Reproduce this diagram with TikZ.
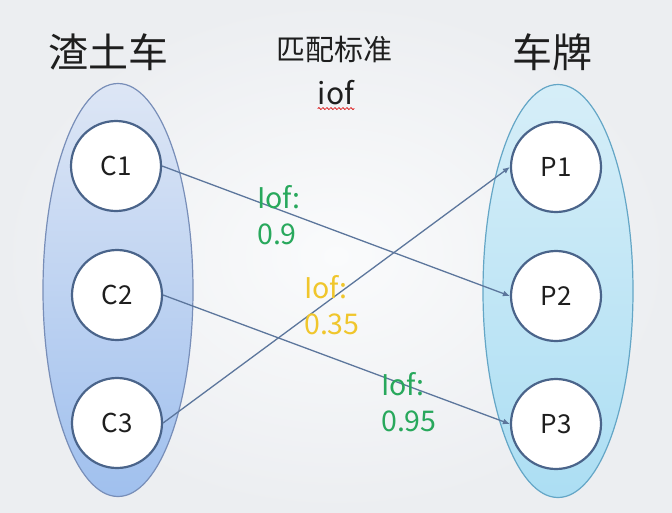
\documentclass[tikz,border=0pt]{standalone}
\usepackage{fontspec}
\setmainfont{Noto Sans CJK SC}
\usetikzlibrary{shapes.geometric,arrows.meta,decorations.pathmorphing}
\definecolor{bgin}{RGB}{250,251,252}
\definecolor{bgout}{RGB}{236,238,241}
\definecolor{lbord}{RGB}{120,142,184}
\definecolor{ltop}{RGB}{221,230,245}
\definecolor{lbot}{RGB}{160,192,238}
\definecolor{rbord}{RGB}{100,166,198}
\definecolor{rtop}{RGB}{214,238,248}
\definecolor{rbot}{RGB}{172,222,243}
\definecolor{cbord}{RGB}{74,100,138}
\definecolor{edgecol}{RGB}{92,118,156}
\definecolor{lblgreen}{RGB}{40,168,92}
\definecolor{lblyellow}{RGB}{240,198,44}
\definecolor{txt}{RGB}{30,30,30}
\tikzset{
  setbox/.style={ellipse, draw, line width=1.2pt, minimum width=150pt, minimum height=413pt, inner sep=0pt},
  leftset/.style={setbox, draw=lbord, top color=ltop, bottom color=lbot},
  rightset/.style={setbox, draw=rbord, top color=rtop, bottom color=rbot},
  item/.style={circle, draw=cbord, line width=2.2pt, fill=white, minimum size=90pt, inner sep=0pt, text=txt, font=\fontsize{26}{30}\selectfont},
  header/.style={text=txt, font=\fontsize{40}{46}\selectfont, inner sep=0pt},
  link/.style={draw=edgecol, line width=1.3pt, -{Latex[length=7pt,width=6pt]}},
  score/.style={align=left, anchor=north west, inner sep=0pt, font=\fontsize{28.5}{36}\selectfont}
}
\begin{document}
\begin{tikzpicture}[x=1pt,y=-1pt]
\useasboundingbox (0,0) rectangle (672,512);
\shade[inner color=bgin, outer color=bgout] (0,0) rectangle (672,512);

\node[leftset] (L) at (118,290) {};
\node[rightset] (R) at (558,291) {};

\node[item] (C1) at (116,166) {C1};
\node[item] (C2) at (117,295) {C2};
\node[item] (C3) at (117,423) {C3};
\node[item] (P1) at (556,167) {P1};
\node[item] (P2) at (556,296) {P2};
\node[item] (P3) at (556,424) {P3};

\node[header] (h1) at (108,52) {渣土车};
\node[header] (h2) at (552,52) {车牌};
\node[text=txt, font=\fontsize{29}{34}\selectfont, inner sep=0pt] (h3) at (334,49) {匹配标准};
\node[text=txt, font=\fontsize{30}{34}\selectfont, inner sep=0pt] (iof) at (336,93) {iof};
\draw[red!85!black, line width=0.7pt, decorate, decoration={snake, amplitude=1pt, segment length=4pt}]
  ([yshift=-3pt]iof.south west) -- ([yshift=-3pt]iof.south east);

\draw[link] (C1.east) -- (P2.west);
\draw[link] (C2.east) -- (P3.west);
\draw[link] (C3.east) -- (P1.west);

\node[score, text=lblgreen] (s1) at (257,185) {Iof:\\0.9};
\node[score, text=lblyellow] (s2) at (304,275) {Iof:\\0.35};
\node[score, text=lblgreen] (s3) at (381,372) {Iof:\\0.95};
\end{tikzpicture}
\end{document}
